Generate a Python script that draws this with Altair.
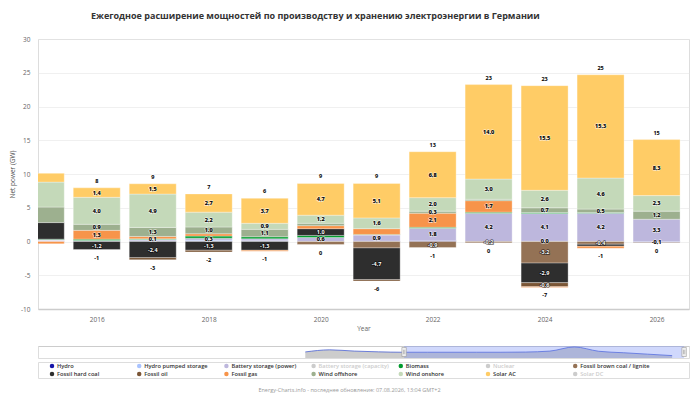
import math
import altair as alt
import pandas as pd

# ---------------- data ----------------
years = list(range(2015, 2027))

series_names = [
    "Hydro", "Hydro pumped storage", "Battery storage (power)", "Biomass",
    "Fossil brown coal / lignite", "Fossil hard coal", "Fossil oil", "Fossil gas",
    "Wind offshore", "Wind onshore", "Solar AC",
]
series_colors = [
    "#1616a8", "#a9c3ff", "#bdb7dd", "#019a2d",
    "#947255", "#2e2e2e", "#7a5535", "#f7944a",
    "#9db08f", "#c4d9b9", "#ffcc66",
]

hydro =     [0.05, 0.0, 0.0, 0.0, 0.0, 0.0, 0.05, 0.15, 0.0, 0.0, 0.0, -0.1]
pumped =    [0.1, 0.05, 0.1, 0.2, 0.1, 0.0, 0.0, 0.0, 0.0, 0.04, 0.0, 0.0]
battery =   [0.1, 0.1, 0.2, 0.3, 0.3, 0.6, 0.9, 1.8, 4.2, 4.1, 4.2, 3.3]
biomass =   [0.1, 0.2, 0.1, 0.3, 0.3, 0.3, 0.1, 0.15, 0.15, 0.15, 0.1, 0.0]
lignite =   [0.0, 0.0, 0.0, 0.0, 0.0, -0.45, -0.95, -0.9, -0.2, -3.2, -0.4, -0.1]
hard_coal = [2.45, -1.2, -2.4, -1.3, -1.3, 1.0, -4.7, 0.0, 0.0, -2.9, -0.3, 0.0]
oil =       [0.0, 0.0, -0.3, -0.25, 0.0, 0.0, -0.2, 0.0, 0.0, -0.6, 0.0, 0.0]
gas =       [-0.35, 1.3, 0.35, 0.35, -0.15, 0.45, 0.85, 2.1, 1.7, -0.1, -0.3, 0.0]
offshore =  [2.3, 0.9, 1.34, 1.0, 1.1, 0.35, 0.0, 0.3, 0.2, 0.7, 0.5, 1.2]
onshore =   [3.7, 4.0, 4.94, 2.2, 0.9, 1.2, 1.6, 2.0, 3.0, 2.6, 4.6, 2.3]
solar =     [1.3, 1.4, 1.52, 2.7, 3.7, 4.7, 5.1, 6.8, 14.0, 15.5, 15.3, 8.3]

series_values = [hydro, pumped, battery, biomass, lignite, hard_coal, oil, gas,
                 offshore, onshore, solar]

# data labels that the reference shows although small / hides although large
extra_labels = [(2017, "Biomass"), (2018, "Battery storage (power)"),
                (2022, "Wind offshore"), (2023, "Fossil brown coal / lignite"),
                (2024, "Hydro pumped storage"), (2025, "Fossil brown coal / lignite"),
                (2026, "Hydro")]
hidden_labels = [(2021, "Fossil gas"), (2021, "Fossil brown coal / lignite")]
dark_series = ["Fossil hard coal", "Fossil brown coal / lignite", "Fossil oil"]

legend_names = [
    "Hydro", "Hydro pumped storage", "Battery storage (power)", "Battery storage (capacity)",
    "Biomass", "Nuclear", "Fossil brown coal / lignite",
    "Fossil hard coal", "Fossil oil", "Fossil gas", "Wind offshore",
    "Wind onshore", "Solar AC", "Solar DC",
]
legend_disabled = ["Battery storage (capacity)", "Nuclear", "Solar DC"]

# navigator overview series
nav_years = list(range(2011, 2027))
nav_values = [6.3, 8.5, 7.2, 6.4, 6.0, 6.0, 6.0, 6.0, 6.0, 6.2, 7.2, 11.5, 7.0, 5.5, 4.0, 2.5]
view_range = [2015.04, 2026.49]

TITLE = "Ежегодное расширение мощностей по производству и хранению электроэнергии в Германии"
FOOTER = "Energy-Charts.info - последнее обновление: 07.08.2026, 13:04 GMT+2"
FONT = "Open Sans"


def fmt1(v):
    return f"{v:.1f}".replace(".", ",")


def fmt0(v):
    r = int(math.floor(abs(v) + 0.5 + 1e-9))
    if r == 0:
        return "0"
    return ("-" if v < 0 else "") + str(r)


rows = []
for i, (name, vals) in enumerate(zip(series_names, series_values)):
    for yr, v in zip(years, vals):
        show = ((abs(v) >= 0.5 and (yr, name) not in hidden_labels)
                or (yr, name) in extra_labels) and yr >= 2016
        dark = name in dark_series
        rows.append(dict(year=yr, series=name, order=i, value=v,
                         label=fmt1(v), show=bool(show),
                         tcolor="#ffffff" if dark else "#000000",
                         ocolor="#000000" if dark else "#ffffff"))
df = pd.DataFrame(rows)

tot_rows = []
for j, yr in enumerate(years):
    if yr < 2016:
        continue
    pos = sum(s[j] for s in series_values if s[j] > 0)
    neg = sum(s[j] for s in series_values if s[j] < 0)
    tot_rows.append(dict(year=yr, pos=pos, neg=neg, pos_label=fmt0(pos), neg_label=fmt0(neg)))
tot = pd.DataFrame(tot_rows)

# ---------------- main chart ----------------
W = 651
xscale = alt.Scale(domain=view_range, nice=False, zero=False)
xaxis = alt.Axis(values=list(range(2016, 2027, 2)), format="d", title="Year", grid=False,
                 ticks=False, labelFontSize=6.5, labelColor="#666666", labelFont=FONT,
                 domainColor="#cccccc", domainWidth=1.5, labelPadding=7,
                 titleFontSize=6.5, titleColor="#666666", titleFont=FONT,
                 titleFontWeight="normal", titlePadding=3)
X = alt.X("year:Q", scale=xscale, axis=xaxis)

yscale = alt.Scale(domain=[-10, 30], nice=False)
yaxis = alt.Axis(values=list(range(-10, 31, 5)), labelExpr="'' + datum.value",
                 title="Net power (GW)", grid=True, gridColor="#e6e6e6", gridWidth=0.6,
                 ticks=False, domain=False, labelFontSize=6.5, labelColor="#666666",
                 labelFont=FONT, labelPadding=8, titleFontSize=6.5, titleColor="#555555",
                 titleFont=FONT, titleFontWeight="normal", titlePadding=5)


def Y(field):
    return alt.Y(field, scale=yscale, axis=yaxis)


stacked = alt.Chart(df).transform_stack(
    stack="value", groupby=["year"], sort=[alt.SortField("order", "ascending")],
    as_=["v0", "v1"])

bars = stacked.transform_filter("datum.value != 0").mark_bar(
    size=47, clip=True, stroke="#ffffff", strokeWidth=0.4, strokeOpacity=0.8
).encode(
    x=X, y=Y("v0:Q"), y2="v1:Q",
    color=alt.Color("series:N", scale=alt.Scale(domain=series_names, range=series_colors),
                    legend=None),
)

lab_base = stacked.transform_filter("datum.show").transform_calculate(
    mid="(datum.v0 + datum.v1) / 2")
lab_outline = lab_base.mark_text(fontSize=5.5, fontWeight="bold", font=FONT,
                                 strokeWidth=1.3, strokeOpacity=0.6).encode(
    x=X, y=Y("mid:Q"), text="label:N",
    stroke=alt.Stroke("ocolor:N", scale=None))
lab_text = lab_base.mark_text(fontSize=5.5, fontWeight="bold", font=FONT).encode(
    x=X, y=Y("mid:Q"), text="label:N",
    color=alt.Color("tcolor:N", scale=None))

tot_chart = alt.Chart(tot)
pos_outline = tot_chart.mark_text(fontSize=5.5, fontWeight="bold", font=FONT, dy=-7,
                                  stroke="#ffffff", strokeWidth=1.3).encode(
    x=X, y=Y("pos:Q"), text="pos_label:N")
pos_text = tot_chart.mark_text(fontSize=5.5, fontWeight="bold", font=FONT, dy=-7,
                               color="#000000").encode(
    x=X, y=Y("pos:Q"), text="pos_label:N")
neg_outline = tot_chart.mark_text(fontSize=5.5, fontWeight="bold", font=FONT, dy=8,
                                  stroke="#ffffff", strokeWidth=1.3).encode(
    x=X, y=Y("neg:Q"), text="neg_label:N")
neg_text = tot_chart.mark_text(fontSize=5.5, fontWeight="bold", font=FONT, dy=8,
                               color="#000000").encode(
    x=X, y=Y("neg:Q"), text="neg_label:N")

main = alt.layer(bars, lab_outline, lab_text, pos_outline, pos_text,
                 neg_outline, neg_text).properties(
    width=W, height=270,
    title=alt.TitleParams(TITLE, anchor="start", frame="group", dx=53, offset=15,
                          fontSize=9, font=FONT, fontWeight="bold", color="#333333"),
)

# ---------------- navigator ----------------
nav_df = pd.DataFrame(dict(year=nav_years, value=nav_values))
sel_df = pd.DataFrame(dict(start=[view_range[0]], end=[view_range[1]]))
handle_df = pd.DataFrame(dict(year=view_range))
nav_xscale = alt.Scale(domain=[2000.07, 2026.69], nice=False, zero=False)
nav_x_axis = alt.Axis(orient="top", labels=False, ticks=False, grid=False, title=None,
                      domainColor="#cccccc", domainWidth=1)
nav_y = alt.Y("value:Q", scale=alt.Scale(domain=[0, 12.5]), axis=None)

nav_area = alt.Chart(nav_df).mark_area(interpolate="monotone", color="#9a9a9a",
                                        opacity=0.5).encode(
    x=alt.X("year:Q", scale=nav_xscale, axis=nav_x_axis), y=nav_y)
nav_line = alt.Chart(nav_df).mark_line(interpolate="monotone", color="#4d63d6",
                                        strokeWidth=0.8).encode(
    x=alt.X("year:Q", scale=nav_xscale, axis=nav_x_axis), y=nav_y)
nav_sel = alt.Chart(sel_df).mark_rect(color="#6d87f5", opacity=0.32).encode(
    x=alt.X("start:Q", scale=nav_xscale, axis=nav_x_axis), x2="end:Q",
    y=alt.value(0), y2=alt.value(12))
handle_shape = "M-0.5,-1 L0.5,-1 L0.5,1 L-0.5,1 Z M-0.15,-0.5 L-0.15,0.5 M0.15,-0.5 L0.15,0.5"
nav_handles = alt.Chart(handle_df).mark_point(
    shape=handle_shape, size=80, filled=False, fill="#f2f2f2", fillOpacity=1,
    stroke="#999999", strokeWidth=0.6, opacity=1).encode(
    x=alt.X("year:Q", scale=nav_xscale, axis=nav_x_axis), y=alt.value(6))

navigator = alt.layer(nav_area, nav_line, nav_sel, nav_handles).properties(width=W, height=12)

# ---------------- legend ----------------
leg_df = pd.DataFrame(dict(
    name=legend_names,
    col=[i % 7 for i in range(len(legend_names))],
    row=[i // 7 for i in range(len(legend_names))],
    dot=[("#cccccc" if n in legend_disabled else
          series_colors[series_names.index(n)]) for n in legend_names],
    tcolor=[("#cccccc" if n in legend_disabled else "#333333") for n in legend_names],
))
leg_x = alt.X("col:Q", scale=alt.Scale(domain=[-0.1606, 7.305], nice=False, zero=False),
              axis=None)
leg_y = alt.Y("row:Q", scale=alt.Scale(domain=[-0.5, 1.5], reverse=True, nice=False,
                                       zero=False), axis=None)
leg_dots = alt.Chart(leg_df).mark_circle(size=20, opacity=1).encode(
    x=leg_x, y=leg_y, color=alt.Color("dot:N", scale=None))
leg_text = alt.Chart(leg_df).mark_text(align="left", dx=5, fontSize=5.7, fontWeight=600,
                                       font=FONT).encode(
    x=leg_x, y=leg_y, text="name:N", color=alt.Color("tcolor:N", scale=None))
legend = alt.layer(leg_dots, leg_text).properties(
    width=W, height=16,
    title=alt.TitleParams(FOOTER, orient="bottom", anchor="middle", dx=-14, offset=10,
                          fontSize=5.5, font=FONT, fontWeight="normal", color="#999999"),
)

bottom = alt.vconcat(navigator, legend, spacing=2)
chart = alt.vconcat(main, bottom, spacing=11).properties(
    padding={"left": 0, "top": 3, "right": 0, "bottom": 0}
).configure_view(stroke=None).configure(background="#ffffff")

chart.save("out.html", embed_options={"renderer": "svg", "actions": False})
